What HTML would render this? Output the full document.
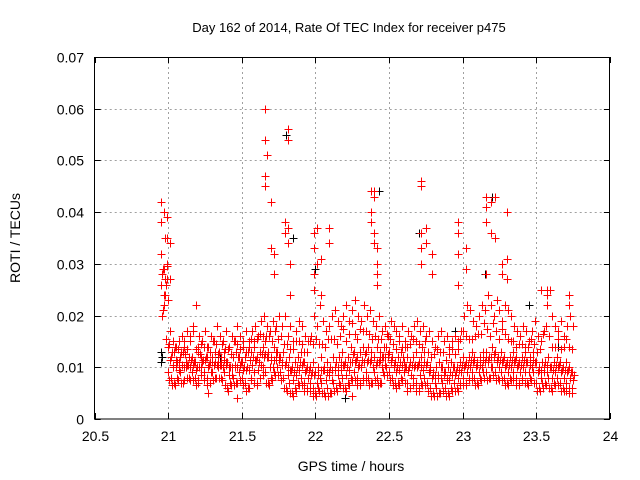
<!DOCTYPE html>
<html><head><meta charset="utf-8"><style>
html,body{margin:0;padding:0;background:#fff;}
svg{display:block;font-family:"Liberation Sans",sans-serif;}
</style></head><body>
<svg id="chart" width="640" height="480" viewBox="0 0 640 480">
<text x="349" y="32" text-anchor="middle" font-size="13" fill="#000">Day 162 of 2014, Rate Of TEC Index for receiver p475</text>
<text x="351" y="471" text-anchor="middle" font-size="14" fill="#000">GPS time / hours</text>
<text x="20" y="238" text-anchor="middle" font-size="14" fill="#000" transform="rotate(-90 20 238)">ROTI / TECUs</text>
<g id="grid"></g>
<g id="axes"></g>
<g id="marks"></g>
<rect x="94.5" y="57.5" width="515" height="361.5" fill="none" stroke="#000" stroke-width="1"/>
</svg>
<script>
const xTicks=[20.5,21,21.5,22,22.5,23,23.5,24];
const xTickLabels=["20.5","21","21.5","22","22.5","23","23.5","24"];
const yTicks=[0,0.01,0.02,0.03,0.04,0.05,0.06,0.07];
const yTickLabels=["0","0.01","0.02","0.03","0.04","0.05","0.06","0.07"];
const times=[20.96,20.98,21.00,21.02,21.04,21.06,21.08,21.10,21.12,21.14,
21.16,21.18,21.20,21.22,21.24,21.26,21.28,21.30,21.32,21.34,
21.36,21.38,21.40,21.42,21.44,21.46,21.48,21.50,21.52,21.54,
21.56,21.58,21.60,21.62,21.64,21.66,21.68,21.70,21.72,21.74,
21.76,21.78,21.80,21.82,21.84,21.86,21.88,21.90,21.92,21.94,
21.96,21.98,22.00,22.02,22.04,22.06,22.08,22.10,22.12,22.14,
22.16,22.18,22.20,22.22,22.24,22.26,22.28,22.30,22.32,22.34,
22.36,22.38,22.40,22.42,22.44,22.46,22.48,22.50,22.52,22.54,
22.56,22.58,22.60,22.62,22.64,22.66,22.68,22.70,22.72,22.74,
22.76,22.78,22.80,22.82,22.84,22.86,22.88,22.90,22.92,22.94,
22.96,22.98,23.00,23.02,23.04,23.06,23.08,23.10,23.12,23.14,
23.16,23.18,23.20,23.22,23.24,23.26,23.28,23.30,23.32,23.34,
23.36,23.38,23.40,23.42,23.44,23.46,23.48,23.50,23.52,23.54,
23.56,23.58,23.60,23.62,23.64,23.66,23.68,23.70,23.72,23.74];
const lowBand_mTECU=[20,24,9,8,7,8,9,7,10,8, 9,8,7,10,9,8,7,9,8,10, 8,9,6,7,8,7,9,8,7,6,
8,9,7,8,10,9,7,8,9,10, 9,8,6,7,5,6,7,8,7,6, 7,6,5,6,7,5,6,5,7,6, 7,8,6,7,8,9,8,7,8,9,
8,7,9,8,7,9,10,9,8,7, 7,8,9,7,6,8,7,6,7,8, 7,6,5,6,5,7,6,5,6,7, 6,7,8,7,8,9,8,7,8,9,
9,8,10,9,8,9,8,7,8,9, 8,7,8,9,7,8,9,7,6,7, 7,8,6,7,8,7,6,7,6,6];
const midBand_mTECU=[28,35,14,12,13,11,12,13,11,12, 12,11,13,12,14,12,11,12,13,11, 12,13,11,10,12,13,12,11,12,13,
13,14,12,13,14,15,13,12,14,13, 12,13,11,12,10,11,12,13,11,10, 10,11,9,10,12,10,11,10,12,11, 12,13,11,12,14,13,12,13,14,13,
14,13,12,14,13,12,14,13,12,11, 12,13,11,12,11,12,13,11,12,13, 11,10,9,10,11,10,9,10,11,10, 10,11,12,11,12,13,12,11,12,13,
13,12,14,13,12,13,12,11,12,13, 12,11,12,13,11,12,13,11,10,11, 11,12,10,11,12,11,10,11,10,9];
const highBand_mTECU=[40,30,17,15,14,15,16,14,17,16, 18,22,16,15,17,14,16,15,18,16, 15,17,14,16,15,18,16,15,17,14,
17,18,16,19,20,18,17,19,18,20, 18,20,16,18,15,17,19,18,16,15, 16,20,18,22,19,17,18,20,21,19, 18,20,22,19,21,23,20,19,22,20,
21,19,18,20,17,18,16,19,18,17, 16,18,15,17,16,18,19,17,18,16, 17,15,14,16,17,15,16,14,15,16, 15,17,20,22,21,19,18,20,22,21,
24,22,20,23,21,19,22,21,20,18, 17,16,18,17,15,17,19,16,15,17, 22,25,20,18,17,19,16,18,20,18];
const spikeTimes=[20.95,20.95,20.95,20.95,20.97,20.97,20.97,20.99,20.99,20.99,21.01,21.01,
21.66,21.66,21.66,21.66,21.67,21.70,21.70,21.72,21.72,21.79,21.79,21.81,21.81,21.81,21.81,21.83,21.83,
21.99,21.99,21.99,21.99,22.01,22.01,22.04,22.04,22.09,22.09,
22.38,22.38,22.38,22.40,22.40,22.40,22.40,22.42,22.42,22.42,22.42,
22.72,22.72,22.72,22.72,22.72,22.75,22.75,22.79,22.79,
22.97,22.97,22.97,22.97,23.02,23.02,
23.16,23.16,23.16,23.16,23.19,23.19,23.22,23.22,23.27,23.27,23.30,23.30,23.30,
23.53,23.57,23.57,23.72,23.72,21.47,21.27,22.25];
const spikeValues_mTECU=[42,32,38,26,40,29,22,39,35,27,34,27,
60,54,47,45,51,42,33,28,32,38,36,56,54,37,34,30,24,
33,36,28,25,37,30,31,24,37,34,
40,38,44,44,43,36,34,33,30,28,26,
46,45,36,33,30,37,34,32,28,
38,36,32,26,33,29,
43,41,38,28,42,36,43,35,30,28,40,31,27,
25,24,25,24,22,4,5,4.5];
const blackTimes=[20.95,20.95,20.95,20.96,21.67,21.80,22.43,23.20,22.00,23.15,22.20,21.85,22.70,23.45,22.95,21.35,23.65];
const blackValues_mTECU=[42,13,11,12,51,55,44,43,29,28,4,35,36,22,17,12,14];

const X0=94.7,X1=609.9,Y0=419,Y1=57;
const xs=v=>X0+(v-20.5)/(24-20.5)*(X1-X0);
const ys=v=>Y0-(v/0.07)*(Y0-Y1);
const NS="http://www.w3.org/2000/svg";
const grid=document.getElementById('grid'),axes=document.getElementById('axes'),marks=document.getElementById('marks');
function mk(tag,attrs,parent){const e=document.createElementNS(NS,tag);for(const k in attrs)e.setAttribute(k,attrs[k]);parent.appendChild(e);return e;}
xTicks.forEach((t,i)=>{
  const x=Math.round(xs(t))+0.5;
  if(i>0&&i<xTicks.length-1){const g=mk('line',{x1:x,x2:x,y1:Y1,y2:Y0,stroke:'#a0a0a0','stroke-dasharray':'2,3'},grid);
  
  }
  const tk=mk('path',{d:`M${x} ${Y0}v-6M${x} ${Y1}v6`,stroke:'#000'},axes);
  
  
  const lb=mk('text',{x:x,y:441,'text-anchor':'middle','font-size':'14',fill:'#000'},axes);
  lb.textContent=xTickLabels[i];
  
  
});
yTicks.forEach((t,i)=>{
  const y=Math.round(ys(t))+0.5;
  if(i>0&&i<yTicks.length-1){const g=mk('line',{x1:X0,x2:X1,y1:y,y2:y,stroke:'#a0a0a0','stroke-dasharray':'2,3'},grid);
  
  }
  const tk=mk('path',{d:`M${X0} ${y}h6M${X1} ${y}h-6`,stroke:'#000'},axes);
  
  
  const lb=mk('text',{x:84,y:y+5,'text-anchor':'end','font-size':'14',fill:'#000'},axes);
  lb.textContent=yTickLabels[i];
  
  
});
function plus(t,v,color){
  const x=Math.round(xs(t))+0.5,y=Math.round(ys(v/1000))+0.5;
  const p=mk('path',{d:`M${x-4} ${y}h8M${x} ${y-4}v8`,stroke:color,'stroke-width':'1',fill:'none'},marks);
  
  
}
blackTimes.forEach((t,i)=>plus(t,blackValues_mTECU[i],'#000'));
const n=times.length;
times.forEach((t,i)=>{
  const j=Math.min(i+1,n-1);
  plus(t,lowBand_mTECU[i],'#f00');
  plus(t+0.01,(lowBand_mTECU[i]+midBand_mTECU[i])/2,'#f00');
  plus(t,midBand_mTECU[i],'#f00');
  plus(t+0.01,highBand_mTECU[i],'#f00');
  plus(t+0.005,(midBand_mTECU[i]+highBand_mTECU[j])/2,'#f00');
  plus(t+0.015,(lowBand_mTECU[j]+midBand_mTECU[i])/2+1,'#f00');
  plus(t+0.005,(lowBand_mTECU[i]+lowBand_mTECU[j])/2-1,'#f00');
});
spikeTimes.forEach((t,i)=>plus(t,spikeValues_mTECU[i],'#f00'));
</script>
</body></html>
